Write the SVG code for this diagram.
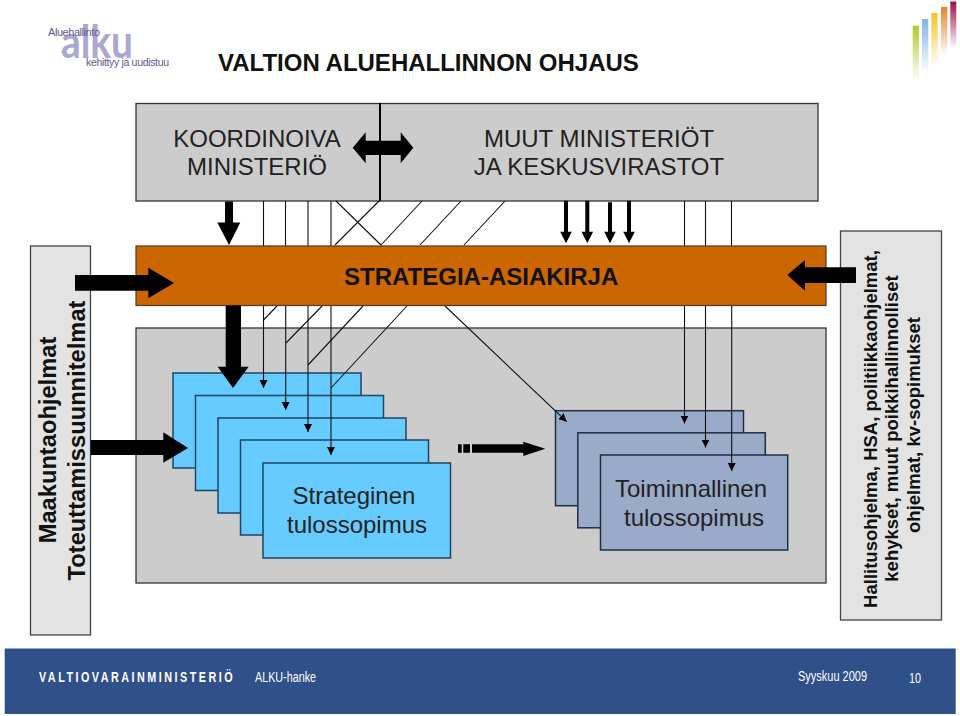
<svg xmlns="http://www.w3.org/2000/svg" width="960" height="716" viewBox="0 0 960 716">
<style>
text{font-family:"Liberation Sans",Arial,sans-serif;fill:#111}
.box{stroke:#333;stroke-width:1.3}
.grey{fill:#ccc}
.side{fill:#e3e3e3;stroke:#444;stroke-width:1.3}
.sb{fill:#66ccff;stroke:#1c4560;stroke-width:1.5}
.tb{fill:#9aaac9;stroke:#1f2d45;stroke-width:1.5}
.m{font-size:24px;text-anchor:middle;fill:#222}
.v{font-weight:bold;text-anchor:middle}
.f{fill:#fff;font-size:14px}
.th{fill:none;stroke:#111;stroke-width:1.1}
.ar{fill:none;stroke:#111;stroke-width:1.1;marker-end:url(#tip)}
.big{fill:#000}
</style>
<defs>
<marker id="tip" markerUnits="userSpaceOnUse" markerWidth="12" markerHeight="10" refX="8" refY="4" orient="auto"><path d="M0 0L8 4L0 8Z" fill="#000"/></marker>
<linearGradient id="g1" x1="0" y1="0" x2="0" y2="1"><stop offset="0" stop-color="#b1cb2e"/><stop offset="1" stop-color="#b1cb2e" stop-opacity="0"/></linearGradient>
<linearGradient id="g2" x1="0" y1="0" x2="0" y2="1"><stop offset="0" stop-color="#82b4e6"/><stop offset="1" stop-color="#82b4e6" stop-opacity="0"/></linearGradient>
<linearGradient id="g3" x1="0" y1="0" x2="0" y2="1"><stop offset="0" stop-color="#f6c221"/><stop offset="1" stop-color="#f6c221" stop-opacity="0"/></linearGradient>
<linearGradient id="g4" x1="0" y1="0" x2="0" y2="1"><stop offset="0" stop-color="#e8842c"/><stop offset="1" stop-color="#e8842c" stop-opacity="0"/></linearGradient>
<linearGradient id="g5" x1="0" y1="0" x2="0" y2="1"><stop offset="0" stop-color="#9e0f45"/><stop offset="1" stop-color="#9e0f45" stop-opacity="0"/></linearGradient>
</defs>
<rect width="960" height="716" fill="#fff"/>
<g id="logo">
<text x="61" y="58" style="font-family:Lato,sans-serif;font-weight:700;font-size:46px;fill:#aaa7d2" textLength="72" lengthAdjust="spacingAndGlyphs">alku</text>
<text x="48" y="36" style="font-size:11px;fill:#5c5c8c" textLength="52">Aluehallinto</text>
<text x="86" y="66" style="font-size:10.500px;fill:#5c5c8c" textLength="83">kehittyy ja uudistuu</text>
</g>
<g id="colour-bars">
<rect x="912.700" y="25.700" width="6.300" height="55" fill="url(#g1)"/>
<rect x="922" y="19" width="6.300" height="54" fill="url(#g2)"/>
<rect x="931.300" y="13" width="6.300" height="53" fill="url(#g3)"/>
<rect x="941" y="7" width="6.300" height="49" fill="url(#g4)"/>
<rect x="950.300" y="1.500" width="6" height="47" fill="url(#g5)"/>
</g>
<text id="title" x="218" y="71" style="font-size:24px;font-weight:bold">VALTION ALUEHALLINNON OHJAUS</text>
<g id="koordinoiva">
<rect class="box grey" x="136" y="103.500" width="244" height="97.500"/>
<text class="m" x="257" y="147">KOORDINOIVA</text>
<text class="m" x="257" y="175">MINISTERIÖ</text>
</g>
<g id="muut">
<rect class="box grey" x="380" y="103.500" width="438" height="97.500"/>
<text class="m" x="599" y="147">MUUT MINISTERIÖT</text>
<text class="m" x="599" y="175">JA KESKUSVIRASTOT</text>
</g>
<g id="tulos-area"><rect class="box grey" x="136" y="328" width="690" height="255"/></g>
<g id="strateginen">
<rect class="sb" x="173" y="373" width="188" height="95"/>
<rect class="sb" x="195.500" y="395.500" width="188" height="95"/>
<rect class="sb" x="218" y="418" width="188" height="95"/>
<rect class="sb" x="240.500" y="440" width="188" height="95"/>
<rect class="sb" x="263" y="463" width="187.500" height="95"/>
<text class="m" x="354" y="504.300">Strateginen</text>
<text class="m" x="357" y="533">tulossopimus</text>
</g>
<g id="toiminnallinen">
<rect class="tb" x="555.500" y="410.700" width="188" height="95"/>
<rect class="tb" x="577.800" y="432.800" width="187.500" height="95"/>
<rect class="tb" x="600.500" y="455" width="187.200" height="95"/>
<text class="m" x="691" y="497.300">Toiminnallinen</text>
<text class="m" x="694" y="526">tulossopimus</text>
</g>
<g id="connectors">
<path class="th" d="M263.500 201V246M285.500 201V246M308 201V246M331 201V246M684.500 201V246M705.500 201V246M731.500 201V246"/>
<path class="th" d="M379 201L335 245M422 201L381 245M461 201L420 245M505 201L464 245M336 201L381 245"/>
<path class="th" d="M277 306L263.500 320M322 306L286 343M363 306L308 365M407 306L331 388"/>
<path class="ar" d="M263.500 306V388"/>
<path class="ar" d="M285.700 306V410"/>
<path class="ar" d="M308 306V432"/>
<path class="ar" d="M331 306V455"/>
<path class="ar" d="M684.500 306V423.500"/>
<path class="ar" d="M705.500 306V447.500"/>
<path class="ar" d="M731.700 306V471"/>
<path class="ar" d="M445 306L566.700 421.700"/>
</g>
<g id="band">
<rect x="136" y="246" width="690" height="59.500" fill="#cc6600" stroke="#4a3a2a" stroke-width="1.2"/>
<text x="344" y="285" style="font-size:24px;font-weight:bold">STRATEGIA-ASIAKIRJA</text>
</g>
<g id="maakunta">
<rect class="side" x="30.500" y="246" width="60" height="389"/>
<text class="v" transform="translate(55.500,440) rotate(-90)" style="font-size:23.700px">Maakuntaohjelmat</text>
<text class="v" transform="translate(85,440.500) rotate(-90)" style="font-size:23.700px">Toteuttamissuunnitelmat</text>
</g>
<g id="hallitus">
<rect class="side" x="840.500" y="231" width="101" height="389"/>
<text class="v" transform="translate(876.500,429) rotate(-90)" style="font-size:18.500px">Hallitusohjelma, HSA, politiikkaohjelmat,</text>
<text class="v" transform="translate(898,428.500) rotate(-90)" style="font-size:18.500px">kehykset, muut poikkihallinnolliset</text>
<text class="v" transform="translate(920,425) rotate(-90)" style="font-size:18.500px">ohjelmat, kv-sopimukset</text>
</g>
<g id="thick-arrows">
<path d="M380 103V201" stroke="#000" stroke-width="2" fill="none"/>
<path class="big" d="M352.700 147.700L365.700 132.300V140.700H400.700V132.300L413.300 147.700L400.700 163.300V155H365.700V163.300Z"/>
<path class="big" d="M225 201.500H233V222.500H240.300L229 245L217.300 222.500H225Z"/>
<path class="big" d="M225.700 305.500H241V366.700H248.700L233 388L217.700 366.700H225.700Z"/>
<path class="big" d="M75 275H148.300V267.700L174 283L148.300 298.300V290.700H75Z"/>
<path class="big" d="M90.700 440H163.300V432.300L188 448L163.300 462.700V455H90.700Z"/>
<path class="big" d="M856 267.300H805V260L787.300 275L805 290.700V283H856Z"/>
<path class="big" d="M458 444.300H461.700V452.700H458ZM463.300 444.300H470V452.700H463.300ZM472 444.300H523.300V441.700L545.300 448.700L523.300 456V452.700H472Z"/>
<path class="big" d="M564 200.700H568V231.700H571.800L566 243.300L560.200 231.700H564Z"/>
<path class="big" d="M585.300 200.700H589.300V231.700H593.100L587.300 243.300L581.500 231.700H585.300Z"/>
<path class="big" d="M608 202.300H612V231.700H615.800L610 243.300L604.200 231.700H608Z"/>
<path class="big" d="M627 200.700H631V231.700H634.800L629 243.300L623.200 231.700H627Z"/>
</g>
<g id="footer">
<rect x="4.700" y="648.500" width="951" height="65.500" fill="#2f5088"/>
<text transform="translate(39,682) scale(.72,1)" class="f" style="font-size:15px;font-weight:bold" textLength="269" lengthAdjust="spacing">VALTIOVARAINMINISTERIÖ</text>
<text x="255" y="682" class="f" textLength="61" lengthAdjust="spacingAndGlyphs">ALKU-hanke</text>
<text x="798" y="681" class="f" textLength="69" lengthAdjust="spacingAndGlyphs">Syyskuu 2009</text>
<text x="909" y="683" class="f" textLength="12" lengthAdjust="spacingAndGlyphs">10</text>
</g>
</svg>
